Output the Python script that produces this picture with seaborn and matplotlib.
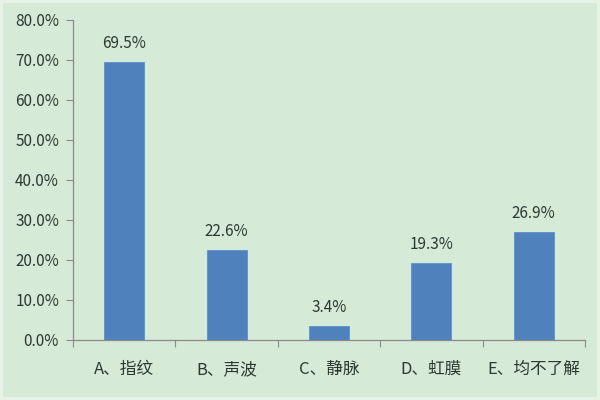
import matplotlib
matplotlib.use("Agg")
import matplotlib.pyplot as plt
import seaborn as sns
import pandas as pd
from matplotlib.ticker import FuncFormatter, FixedLocator

categories = ["A、指纹", "B、声波", "C、静脉", "D、虹膜", "E、均不了解"]
values = [69.5, 22.6, 3.4, 19.3, 26.9]
labels = ["69.5%", "22.6%", "3.4%", "19.3%", "26.9%"]

sns.set_theme(style="white")
plt.rcParams['font.family'] = ['Noto Sans CJK SC', 'DejaVu Sans']

bg = "#d6eAd8"
txt = "#2b3a30"
fig = plt.figure(figsize=(6, 4), dpi=100, facecolor=bg)
ax = fig.add_axes([73/600, 1 - 340/400, 512/600, 320/400])
ax.set_facecolor(bg)

df = pd.DataFrame({"cat": categories, "val": values})
sns.barplot(data=df, x="cat", y="val", color="#4f81bd", width=0.39,
            saturation=1, ax=ax, edgecolor="#5b8fd0", linewidth=0.6)

for i, (v, l) in enumerate(zip(values, labels)):
    ax.text(i, v + 2.5, l, ha="center", va="bottom", fontsize=11, color=txt)

ax.set_ylim(0, 80)
ax.set_xlim(-0.5, 4.5)
ax.set_yticks(range(0, 81, 10))
ax.yaxis.set_major_formatter(FuncFormatter(lambda y, p: f"{y:.1f}%"))
ax.set_xlabel("")
ax.set_ylabel("")
ax.tick_params(axis="y", labelsize=11, colors=txt, length=5, width=0.8,
               color="#8a8a8a", pad=5, left=True)
ax.tick_params(axis="x", which="major", labelsize=12, colors=txt, length=0, pad=15)
ax.xaxis.set_minor_locator(FixedLocator([-0.5, 0.5, 1.5, 2.5, 3.5, 4.5]))
ax.tick_params(axis="x", which="minor", length=5, width=0.8, color="#8a8a8a", bottom=True)

for s in ["top", "right"]:
    ax.spines[s].set_visible(False)
for s in ["left", "bottom"]:
    ax.spines[s].set_color("#8a8a8a")
    ax.spines[s].set_linewidth(0.9)
ax.grid(False)

fig.patch.set_edgecolor("#e8f3e8")
fig.patch.set_linewidth(4)
fig.savefig("out.png", dpi=100, facecolor=bg, edgecolor="#e8f3e8")
